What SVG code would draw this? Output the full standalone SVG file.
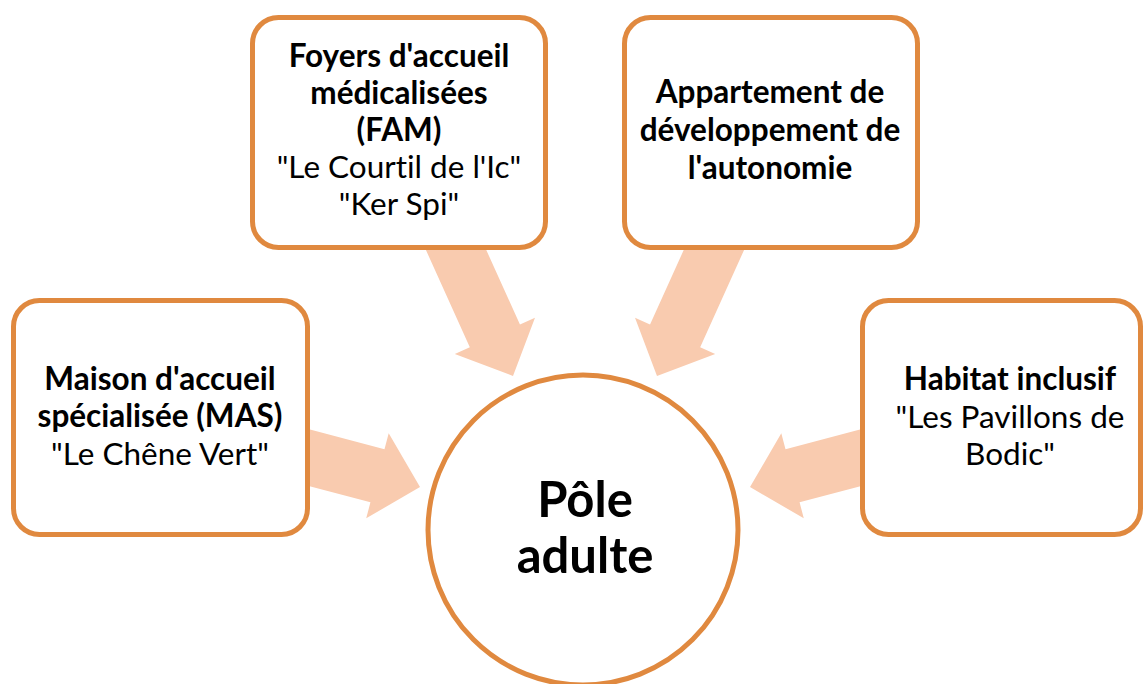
<svg xmlns="http://www.w3.org/2000/svg" width="1144" height="684" viewBox="0 0 1144 684">
<defs>
<style>
.box{fill:#ffffff;stroke:#E0893F;stroke-width:5}
.arr{fill:#F9CBAF;stroke:none}
text{font-family:Lato,"Liberation Sans",sans-serif;font-size:31.5px;fill:#000;text-anchor:middle;font-variant-ligatures:none}
.b{font-weight:bold}
.big{font-size:49px;font-weight:bold}
</style>
<path id="arrow" d="M-160,-27.5 L-44,-27.5 L-44,-44 L0,0 L-44,44 L-44,27.5 L-160,27.5 Z"/>
</defs>
<rect width="1144" height="684" fill="#ffffff"/>
<g id="connectors">
<use href="#arrow" class="arr" transform="translate(513,376) rotate(65.7)"/>
<use href="#arrow" class="arr" transform="translate(657,376) rotate(114.3)"/>
<use href="#arrow" class="arr" transform="translate(420,487) rotate(14.8)"/>
<use href="#arrow" class="arr" transform="translate(750,487) rotate(165.2)"/>
</g>
<g id="fam">
<rect class="box" x="252.5" y="17.5" width="293" height="230" rx="26"/>
<text x="399" y="67" class="b">Foyers d'accueil</text>
<text x="399" y="104" class="b">médicalisées</text>
<text x="399" y="141" class="b">(FAM)</text>
<text x="399" y="178">"Le Courtil de l'Ic"</text>
<text x="399" y="215">"Ker Spi"</text>
</g>
<g id="appartement">
<rect class="box" x="624.5" y="17.5" width="293" height="230" rx="26"/>
<text x="770" y="103" class="b">Appartement de</text>
<text x="770" y="141" class="b">développement de</text>
<text x="770" y="179" class="b">l'autonomie</text>
</g>
<g id="mas">
<rect class="box" x="13.5" y="300.5" width="294" height="234" rx="26"/>
<text x="160" y="390" class="b">Maison d'accueil</text>
<text x="160" y="427" class="b">spécialisée (MAS)</text>
<text x="160" y="465">"Le Chêne Vert"</text>
</g>
<g id="habitat">
<rect class="box" x="862.5" y="300.5" width="278" height="234" rx="26"/>
<text x="1010" y="390" class="b">Habitat inclusif</text>
<text x="1010" y="428">"Les Pavillons de</text>
<text x="1010" y="465">Bodic"</text>
</g>
<g id="pole">
<circle class="box" cx="583" cy="530" r="155"/>
<text x="585" y="517" class="big">Pôle</text>
<text x="585" y="573" class="big">adulte</text>
</g>
</svg>
